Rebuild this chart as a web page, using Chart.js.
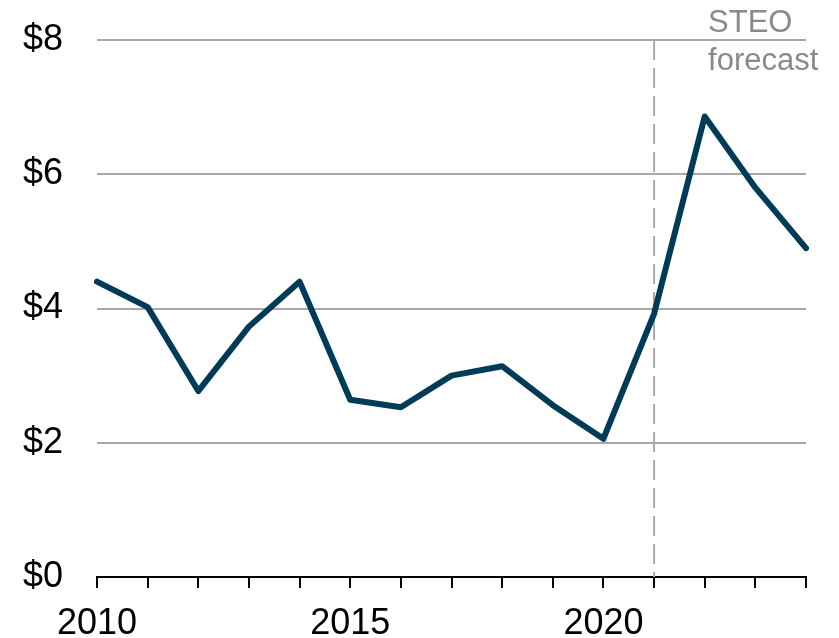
<!DOCTYPE html>
<html>
<head>
<meta charset="utf-8">
<script src="https://cdn.jsdelivr.net/npm/chart.js@4.4.1/dist/chart.umd.min.js"></script>
<style>
  html, body { margin:0; padding:0; background:#fff; }
  #chart { display:block; }
</style>
</head>
<body>
<canvas id="chart" width="839" height="638"></canvas>
<script>
// ====== data ======
const years = ["2010","2011","2012","2013","2014","2015","2016","2017","2018","2019","2020","2021","2022","2023","2024"];
const prices = [4.40, 4.02, 2.77, 3.73, 4.40, 2.64, 2.53, 3.00, 3.14, 2.56, 2.06, 3.92, 6.86, 5.80, 4.90];
const labeledYears = ["2010","2015","2020"];
const forecastStart = "2021";
const forecastText = ["STEO", "forecast"];

const font = "'Liberation Sans', Arial, sans-serif";

// dashed forecast line (under the series) + label
const forecastPlugin = {
    id: "forecast",
    beforeDatasetsDraw(chart){
        const ctx = chart.ctx;
        const x = chart.scales.x.getPixelForValue(years.indexOf(forecastStart));
        const area = chart.chartArea;
        ctx.save();
        ctx.strokeStyle = "#aaaaaa";
        ctx.lineWidth = 2;
        ctx.setLineDash([20, 8]);
        ctx.beginPath();
        ctx.moveTo(x, area.top);
        ctx.lineTo(x, area.bottom);
        ctx.stroke();
        ctx.restore();
    },
    afterDatasetsDraw(chart){
        const ctx = chart.ctx;
        const x = chart.scales.x.getPixelForValue(years.indexOf(forecastStart));
        ctx.save();
        ctx.fillStyle = "#8a8a8a";
        ctx.font = "31px " + font;
        ctx.textBaseline = "alphabetic";
        ctx.textAlign = "left";
        ctx.fillText(forecastText[0], x + 54, 32);
        ctx.fillText(forecastText[1], x + 54, 70);
        ctx.restore();
    }
};

new Chart(document.getElementById("chart"), {
    type: "line",
    data: {
        labels: years,
        datasets: [{
            data: prices,
            borderColor: "#003b57",
            borderWidth: 6,
            pointRadius: 0,
            tension: 0,
            fill: false,
            borderJoinStyle: "round",
            borderCapStyle: "round"
        }]
    },
    options: {
        responsive: false,
        animation: false,
        layout: { padding: { top: 40, right: 33, left: 0, bottom: 0 } },
        plugins: {
            legend: { display: false },
            tooltip: { enabled: false }
        },
        scales: {
            x: {
                offset: false,
                border: { display: true, color: "#000", width: 2 },
                grid: {
                    drawOnChartArea: false,
                    drawTicks: true,
                    tickLength: 11,
                    color: "#000",
                    lineWidth: 2
                },
                ticks: {
                    autoSkip: false,
                    maxRotation: 0,
                    padding: 14,
                    color: "#000",
                    font: { family: font, size: 36 },
                    callback: function(v){
                        const lbl = this.getLabelForValue(v);
                        return labeledYears.includes(lbl) ? lbl : "";
                    }
                },
                afterFit(scale){ scale.height = 61; scale.paddingLeft = 0; scale.paddingRight = 0; }
            },
            y: {
                min: 0,
                max: 8,
                border: { display: false },
                grid: {
                    drawTicks: false,
                    color: "#a8a8a8",
                    lineWidth: 2
                },
                ticks: {
                    stepSize: 2,
                    padding: 34,
                    color: "#000",
                    font: { family: font, size: 36 },
                    callback: v => "$" + v
                },
                afterFit(scale){ scale.width = 97; scale.paddingTop = 0; scale.paddingBottom = 0; }
            }
        }
    },
    plugins: [forecastPlugin]
});
</script>
</body>
</html>
